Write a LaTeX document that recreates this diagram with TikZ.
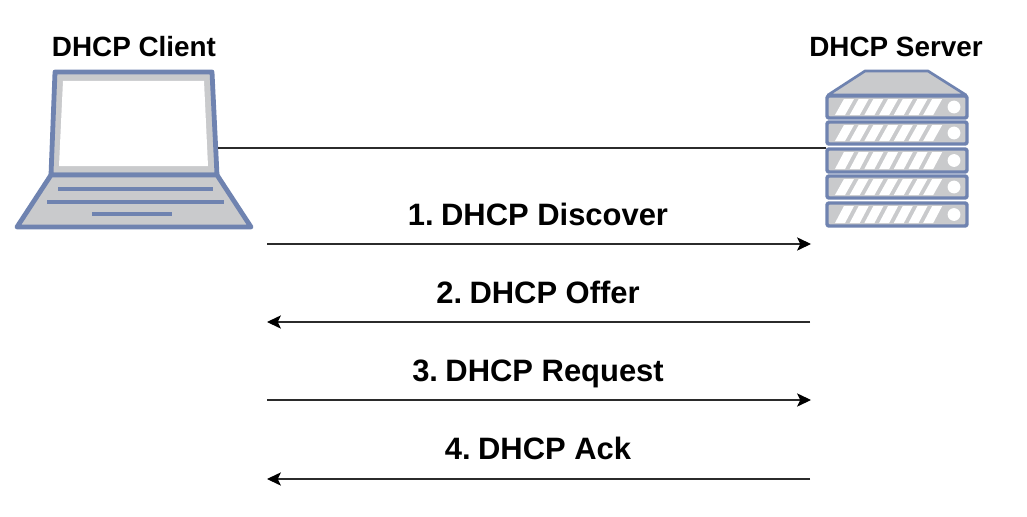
\documentclass[tikz,border=0pt]{standalone}
\usepackage{fontspec}
\setmainfont{Liberation Sans}
\usetikzlibrary{arrows.meta}
\definecolor{iconblue}{HTML}{6F83B0}
\definecolor{icongray}{HTML}{C9CACC}
\definecolor{wirecol}{HTML}{2B2B2B}
\tikzset{
  px/.style={x=0.75pt,y=-0.75pt},
  iconline/.style={draw=iconblue,line width=3.6pt,line join=round,line cap=round},
  iconthin/.style={draw=iconblue,line width=2pt,line join=round},
  rackunit/.style={draw=iconblue,line join=round,fill=icongray,rounded corners=1.5pt,line width=2.6pt},
  slot/.style={fill=white,draw=none},
  msgarrow/.style={draw=wirecol,line width=0.8pt,-{Stealth[length=10.5pt,width=10pt,inset=2.5pt,color=black]}},
  wire/.style={draw=wirecol,line width=0.8pt},
  msglabel/.style={font=\bfseries\fontsize{23.2}{26}\selectfont,text=black,inner sep=0pt,anchor=base},
  titlelabel/.style={font=\bfseries\fontsize{20.9}{24}\selectfont,text=black,inner sep=0pt,anchor=base}
}
\newcommand{\rackrow}[2]{%
  \draw[rackunit] (827,#1) rectangle (967,#2);
  \foreach \k in {0,...,6}{
    \fill[slot] ({835+\k*14.7},#2-3) -- ({844+\k*14.7},#1+3) -- ({854+\k*14.7},#1+3) -- ({845+\k*14.7},#2-3) -- cycle;
  }
  \fill[white] (954,{(#1+#2)/2}) circle (6.4);
}
\newcommand{\numgap}{\hspace{0.24em}}
\begin{document}
\begin{tikzpicture}[px]
\useasboundingbox (0,0) rectangle (1027,517);
\fill[white] (0,0) rectangle (1027,517);
% laptop
\draw[iconline,fill=icongray] (55,72) -- (212,72) -- (217,175) -- (51,175) -- cycle;
\fill[white] (63,81) -- (204,81) -- (208,166) -- (59,166) -- cycle;
\draw[iconline,fill=icongray] (51,175) -- (217,175) -- (251,227) -- (17,227) -- cycle;
\draw[iconblue,line width=3.4pt] (58,189) -- (213,189);
\draw[iconblue,line width=3.4pt] (47,202) -- (224,202);
\draw[iconblue,line width=3.4pt] (92,214) -- (172,214);
% server
\draw[iconthin,fill=icongray] (828,95) -- (865,71) -- (928,71) -- (966,95) -- cycle;
\rackrow{96}{118}
\rackrow{122}{144}
\rackrow{149}{172}
\rackrow{176}{198}
\rackrow{203}{226}
% anchors
\node[inner sep=0pt,minimum size=0pt] (client) at (218,148) {};
\node[inner sep=0pt,minimum size=0pt] (server) at (826,148) {};
\coordinate (c1) at (267,244); \coordinate (s1) at (811,244);
\coordinate (c2) at (267,322); \coordinate (s2) at (810,322);
\coordinate (c3) at (267,400); \coordinate (s3) at (811,400);
\coordinate (c4) at (267,479); \coordinate (s4) at (810,479);
\draw[wire] (client) -- (server);
\draw[msgarrow] (c1) -- (s1);
\draw[msgarrow] (s2) -- (c2);
\draw[msgarrow] (c3) -- (s3);
\draw[msgarrow] (s4) -- (c4);
\node[titlelabel] (tc) at (134,56) {DHCP Client};
\node[titlelabel] (ts) at (896,56) {DHCP Server};
\node[msglabel] (m1) at (538,225) {1.\numgap DHCP Discover};
\node[msglabel] (m2) at (538,303) {2.\numgap DHCP Offer};
\node[msglabel] (m3) at (538,381) {3.\numgap DHCP Request};
\node[msglabel] (m4) at (538,459) {4.\numgap DHCP Ack};
\end{tikzpicture}
\end{document}
